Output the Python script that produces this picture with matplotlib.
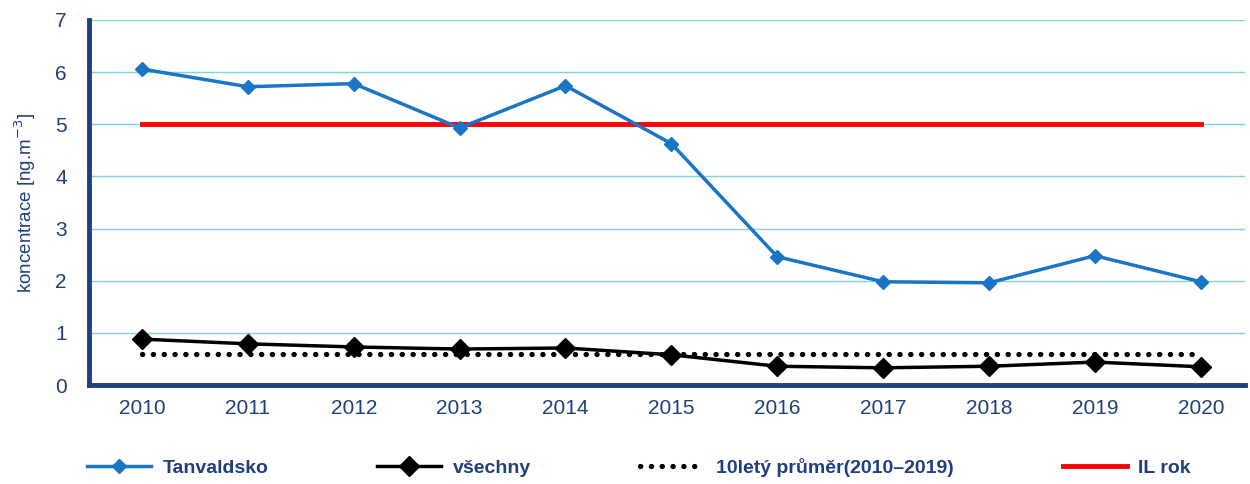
import matplotlib
matplotlib.use('Agg')

import matplotlib.pyplot as plt

years = ['2010', '2011', '2012', '2013', '2014', '2015', '2016', '2017', '2018', '2019', '2020']
tanvaldsko = [6.06, 5.72, 5.78, 4.93, 5.74, 4.63, 2.46, 1.98, 1.96, 2.48, 1.98]
vsechny = [0.88, 0.79, 0.73, 0.69, 0.71, 0.58, 0.36, 0.33, 0.36, 0.44, 0.35]
prumer = [0.60] * 11
il_rok = [5.0] * 11

navy = '#1F3F7F'
blue = '#1A75C4'

plt.rcParams['font.family'] = ['Liberation Sans', 'DejaVu Sans']

fig = plt.figure(figsize=(12.5, 4.84), dpi=100)
ax = fig.add_axes([0.0712, 0.2045, 0.925, 0.7542])

x = list(range(len(years)))
l1, = ax.plot(x, tanvaldsko, color=blue, lw=2.5, marker='D', ms=7, zorder=4)
l2, = ax.plot(x, vsechny, color='black', lw=2.5, marker='D', ms=10, zorder=4)
l3, = ax.plot(x, prumer, color='black', lw=3.8, linestyle=(0, (0.05, 2.0)),
              dash_capstyle='round', zorder=3)
l4, = ax.plot(x, il_rok, color='#FF0000', lw=3.5, zorder=3)

ax.set_xlim(-0.5, 10.42)
ax.set_ylim(0, 7)
ax.set_yticks(range(8))
ax.set_xticks(x)
ax.set_xticklabels(years)
ax.grid(axis='y', color='#7FD3DE', lw=1)
ax.set_axisbelow(True)

for s in ['top', 'right']:
    ax.spines[s].set_visible(False)
for s in ['left', 'bottom']:
    ax.spines[s].set_color(navy)
    ax.spines[s].set_linewidth(3.5)

ax.tick_params(axis='both', colors=navy, labelsize=15, length=0)
ax.tick_params(axis='x', pad=10)
ax.tick_params(axis='y', pad=16)
ax.set_ylabel('koncentrace [ng.m$^{-3}$]', color=navy, fontsize=13.5, labelpad=12)

leg = fig.legend([l1, l2, l3, l4],
                 ['Tanvaldsko', 'všechny', '10letý průměr(2010–2019)', 'IL rok'],
                 loc='center', bbox_to_anchor=(0.511, 0.035), ncol=4, frameon=False,
                 handlelength=3.3, handletextpad=0.6, columnspacing=5.6,
                 prop={'weight': 'bold', 'size': 14})
for t in leg.get_texts():
    t.set_color(navy)

fig.savefig('out.png', dpi=100)
